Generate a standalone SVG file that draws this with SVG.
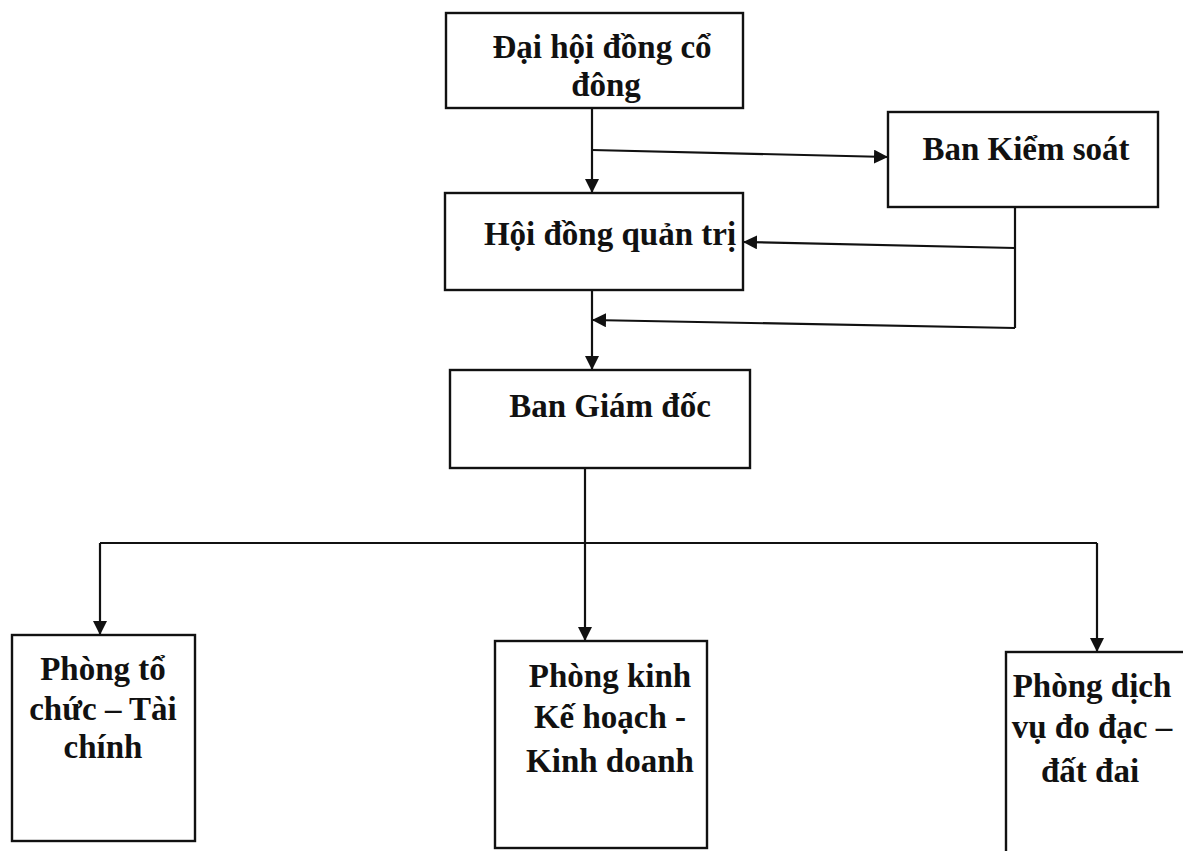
<svg xmlns="http://www.w3.org/2000/svg" width="1183" height="851" viewBox="0 0 1183 851">
<style>
.box{fill:#fff;stroke:#111;stroke-width:2.4}
.t{font-family:"Liberation Serif","Times New Roman",serif;font-weight:bold;font-size:33px;fill:#111;text-anchor:middle}
.c{fill:none;stroke:#111;stroke-width:2.2}
</style>
<defs>
<marker id="ah" viewBox="0 0 14 14" refX="14" refY="7" markerWidth="14" markerHeight="14" markerUnits="userSpaceOnUse" orient="auto">
<path d="M0,0 L14,7 L0,14 Z" fill="#111"/>
</marker>
</defs>
<rect width="1183" height="851" fill="#fff"/>
<g id="connectors">
<path class="c" d="M592,108 V193" marker-end="url(#ah)"/>
<path class="c" d="M592,150 L888,157" marker-end="url(#ah)"/>
<path class="c" d="M1015,207 V328"/>
<path class="c" d="M1015,248 L743,242" marker-end="url(#ah)"/>
<path class="c" d="M1015,328 L592,320" marker-end="url(#ah)"/>
<path class="c" d="M592,290 V370" marker-end="url(#ah)"/>
<path class="c" d="M585,468 V543"/>
<path class="c" d="M585,543 V641" marker-end="url(#ah)"/>
<path class="c" d="M100,543 H1097"/>
<path class="c" d="M100,543 V635" marker-end="url(#ah)"/>
<path class="c" d="M1097,543 V652" marker-end="url(#ah)"/>
</g>
<g id="dhdcd">
<rect class="box" x="446" y="13" width="297" height="95"/>
<text class="t" x="602" y="58">Đại hội đồng cổ</text>
<text class="t" x="606" y="96">đông</text>
</g>
<g id="bks">
<rect class="box" x="888" y="112" width="270" height="95"/>
<text class="t" x="1026" y="160">Ban Kiểm soát</text>
</g>
<g id="hdqt">
<rect class="box" x="445" y="193" width="298" height="97"/>
<text class="t" x="610" y="245">Hội đồng quản trị</text>
</g>
<g id="bgd">
<rect class="box" x="450" y="370" width="300" height="98"/>
<text class="t" x="610" y="417">Ban Giám đốc</text>
</g>
<g id="ptctc">
<rect class="box" x="12" y="635" width="183" height="206"/>
<text class="t" x="103" y="680">Phòng tổ</text>
<text class="t" x="103" y="720">chức – Tài</text>
<text class="t" x="103" y="758">chính</text>
</g>
<g id="pkhkd">
<rect class="box" x="495" y="641" width="212" height="207"/>
<text class="t" x="610" y="687">Phòng kinh</text>
<text class="t" x="610" y="728">Kế hoạch -</text>
<text class="t" x="610" y="772">Kinh doanh</text>
</g>
<g id="pdvdd">
<rect class="box" x="1006" y="652" width="190" height="220"/>
<text class="t" x="1092" y="697">Phòng dịch</text>
<text class="t" x="1092" y="738">vụ đo đạc –</text>
<text class="t" x="1090" y="782">đất đai</text>
</g>
</svg>
